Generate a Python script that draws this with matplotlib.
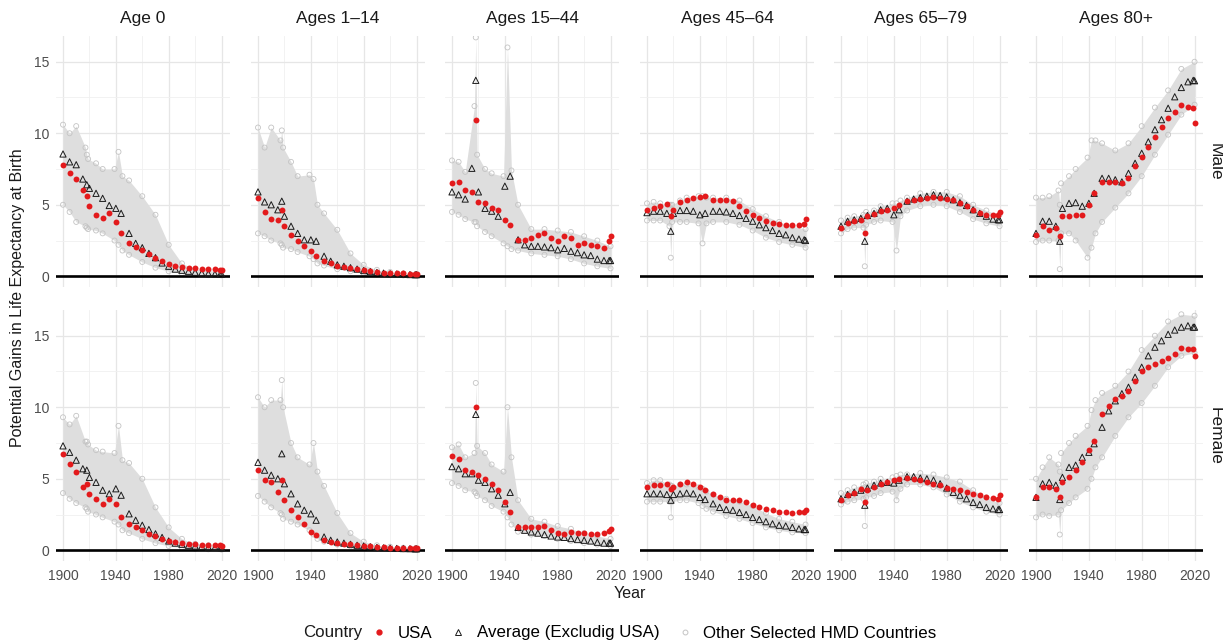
import matplotlib
matplotlib.use("Agg")
import matplotlib.pyplot as plt
from matplotlib.lines import Line2D

plt.rcParams['font.family'] = ['Liberation Sans', 'DejaVu Sans']

AGE_GROUPS = ["Age 0", "Ages 1\u201314", "Ages 15\u201344", "Ages 45\u201364", "Ages 65\u201379", "Ages 80+"]
SEXES = ["Male", "Female"]

# years for USA / average markers
YEARS = [1900, 1905, 1910, 1915, 1918, 1920, 1925, 1930, 1935, 1940, 1944,
         1950, 1955, 1960, 1965, 1970, 1975, 1980, 1985, 1990, 1995, 2000,
         2005, 2010, 2015, 2019, 2020]
# years for the envelope of the other HMD countries
BAND_YEARS = [1900, 1905, 1910, 1917, 1918, 1919, 1925, 1930, 1939, 1942, 1945,
              1950, 1960, 1970, 1980, 1990, 2000, 2010, 2020]

USA_MALE = {
    "Age 0": [7.8, 7.2, 6.8, 6.0, 5.6, 4.9, 4.3, 4.1, 4.4, 3.8, 3.0, 2.3, 2.05, 1.85, 1.55, 1.3, 1.05, 0.85, 0.72, 0.63, 0.58, 0.55, 0.53, 0.52, 0.48, 0.46, 0.45],
    "Ages 1\u201314": [5.5, 4.5, 4.0, 3.9, 4.6, 3.5, 2.9, 2.5, 2.1, 1.75, 1.45, 1.1, 0.9, 0.75, 0.65, 0.57, 0.5, 0.43, 0.37, 0.3, 0.26, 0.23, 0.21, 0.2, 0.19, 0.18, 0.18],
    "Ages 15\u201344": [6.55, 6.6, 6.05, 5.9, 10.9, 5.2, 5.1, 4.75, 4.65, 3.95, 3.6, 2.55, 2.55, 2.65, 2.9, 3.0, 2.65, 2.45, 2.8, 2.65, 2.2, 2.3, 2.2, 2.1, 1.98, 2.45, 2.85],
    "Ages 45\u201364": [4.65, 4.75, 4.9, 5.05, 4.2, 4.65, 5.2, 5.35, 5.45, 5.55, 5.6, 5.35, 5.35, 5.35, 5.25, 4.9, 4.55, 4.3, 4.05, 3.85, 3.7, 3.65, 3.6, 3.6, 3.6, 3.65, 4.0],
    "Ages 65\u201379": [3.4, 3.7, 3.85, 3.95, 3.0, 4.2, 4.35, 4.55, 4.65, 4.75, 5.0, 5.25, 5.35, 5.4, 5.45, 5.55, 5.5, 5.4, 5.3, 5.1, 4.9, 4.65, 4.4, 4.3, 4.25, 4.3, 4.5],
    "Ages 80+": [2.9, 3.5, 3.25, 3.35, 2.8, 4.2, 4.2, 4.3, 4.3, 5.0, 5.8, 6.6, 6.6, 6.6, 6.5, 6.85, 7.7, 8.35, 9.05, 9.75, 10.45, 11.05, 11.5, 12.0, 11.85, 11.8, 10.75],
}
AVG_MALE = {
    "Age 0": [8.55, 8.0, 7.8, 6.8, 6.4, 6.15, 5.8, 5.45, 4.95, 4.75, 4.4, 3.0, 2.3, 2.0, 1.6, 1.3, 0.93, 0.7, 0.5, 0.42, 0.35, 0.28, 0.23, 0.19, 0.16, 0.14, 0.14],
    "Ages 1\u201314": [5.9, 5.2, 5.0, 4.65, 5.25, 4.2, 3.5, 3.0, 2.55, 2.55, 2.45, 1.4, 1.05, 0.8, 0.7, 0.6, 0.5, 0.4, 0.33, 0.27, 0.22, 0.18, 0.16, 0.14, 0.12, 0.11, 0.11],
    "Ages 15\u201344": [5.9, 5.7, 5.4, 7.55, 13.7, 5.9, 4.75, 4.55, 4.2, 6.3, 7.0, 2.55, 2.2, 2.1, 2.1, 2.05, 2.0, 1.85, 1.95, 1.75, 1.65, 1.5, 1.45, 1.2, 1.1, 1.1, 1.1],
    "Ages 45\u201364": [4.45, 4.55, 4.55, 4.4, 3.15, 4.4, 4.6, 4.6, 4.55, 4.3, 4.4, 4.55, 4.55, 4.5, 4.4, 4.25, 4.05, 3.85, 3.6, 3.4, 3.2, 3.0, 2.9, 2.7, 2.6, 2.55, 2.5],
    "Ages 65\u201379": [3.5, 3.85, 3.95, 4.05, 2.45, 4.25, 4.4, 4.65, 4.75, 4.3, 4.65, 5.25, 5.4, 5.5, 5.6, 5.7, 5.65, 5.55, 5.35, 5.15, 4.95, 4.65, 4.4, 4.2, 4.0, 3.95, 3.95],
    "Ages 80+": [3.0, 3.85, 3.85, 3.5, 2.45, 4.75, 5.1, 5.15, 4.9, 5.1, 5.8, 6.85, 6.85, 6.75, 6.6, 7.2, 7.9, 8.6, 9.4, 10.25, 10.95, 11.75, 12.55, 13.2, 13.6, 13.7, 13.67],
}
USA_FEMALE = {
    "Age 0": [6.75, 6.05, 5.45, 4.4, 4.65, 3.95, 3.6, 3.25, 3.6, 3.25, 2.3, 1.85, 1.6, 1.4, 1.15, 0.98, 0.8, 0.65, 0.58, 0.51, 0.47, 0.42, 0.4, 0.4, 0.35, 0.35, 0.33],
    "Ages 1\u201314": [5.6, 4.9, 4.75, 4.05, 4.9, 3.5, 2.8, 2.3, 1.85, 1.3, 1.05, 0.7, 0.58, 0.51, 0.47, 0.42, 0.37, 0.33, 0.28, 0.23, 0.2, 0.19, 0.17, 0.16, 0.15, 0.14, 0.14],
    "Ages 15\u201344": [6.6, 6.4, 5.6, 5.45, 10.0, 5.25, 5.0, 4.65, 4.2, 3.35, 2.65, 1.65, 1.65, 1.65, 1.6, 1.7, 1.45, 1.2, 1.15, 1.3, 1.2, 1.2, 1.15, 1.15, 1.2, 1.35, 1.5],
    "Ages 45\u201364": [4.4, 4.55, 4.55, 4.6, 4.3, 4.45, 4.6, 4.75, 4.6, 4.4, 4.2, 3.95, 3.7, 3.55, 3.55, 3.5, 3.35, 3.15, 3.0, 2.9, 2.8, 2.7, 2.65, 2.6, 2.65, 2.65, 2.85],
    "Ages 65\u201379": [3.55, 3.85, 4.0, 4.25, 3.35, 4.2, 4.45, 4.65, 4.75, 4.9, 4.95, 5.05, 5.0, 4.9, 4.75, 4.65, 4.55, 4.35, 4.25, 4.2, 4.05, 3.95, 3.85, 3.7, 3.65, 3.6, 3.85],
    "Ages 80+": [3.7, 4.4, 4.4, 4.3, 3.7, 4.75, 5.1, 5.6, 6.15, 7.0, 7.65, 9.55, 10.1, 10.6, 10.8, 11.15, 11.85, 12.55, 12.8, 13.0, 13.2, 13.45, 13.7, 14.15, 14.05, 14.05, 13.55],
}
AVG_FEMALE = {
    "Age 0": [7.3, 6.85, 6.3, 5.7, 5.6, 5.1, 4.75, 4.2, 3.95, 4.3, 3.85, 2.55, 2.1, 1.75, 1.45, 1.15, 0.9, 0.65, 0.5, 0.42, 0.35, 0.3, 0.25, 0.22, 0.2, 0.19, 0.18],
    "Ages 1\u201314": [6.15, 5.6, 5.25, 5.0, 6.75, 4.65, 3.95, 3.25, 2.8, 2.55, 2.1, 0.93, 0.7, 0.58, 0.5, 0.42, 0.35, 0.3, 0.25, 0.2, 0.17, 0.15, 0.13, 0.12, 0.11, 0.1, 0.1],
    "Ages 15\u201344": [5.85, 5.7, 5.35, 5.35, 9.5, 4.9, 4.75, 4.3, 3.85, 3.25, 4.05, 1.6, 1.4, 1.28, 1.2, 1.1, 1.0, 0.93, 0.9, 0.82, 0.75, 0.7, 0.65, 0.56, 0.5, 0.5, 0.5],
    "Ages 45\u201364": [3.95, 3.95, 3.95, 3.9, 3.5, 3.9, 3.95, 4.0, 3.95, 3.7, 3.55, 3.25, 3.0, 2.85, 2.8, 2.65, 2.5, 2.3, 2.15, 2.0, 1.85, 1.75, 1.7, 1.6, 1.5, 1.45, 1.45],
    "Ages 65\u201379": [3.6, 3.9, 4.05, 4.2, 3.15, 4.35, 4.55, 4.7, 4.75, 4.7, 4.9, 5.15, 5.15, 5.05, 5.0, 4.9, 4.65, 4.35, 4.05, 3.85, 3.6, 3.35, 3.2, 3.0, 2.9, 2.85, 2.85],
    "Ages 80+": [3.7, 4.65, 4.75, 4.55, 3.55, 5.1, 5.8, 5.95, 6.5, 6.85, 7.45, 8.6, 9.75, 10.45, 10.95, 11.4, 12.1, 12.8, 13.6, 14.2, 14.65, 15.1, 15.4, 15.6, 15.7, 15.6, 15.6],
}

# envelope of the other selected HMD countries (low / high)
OTH_HI_MALE = {
    "Age 0": [10.6, 10.0, 10.5, 9.0, 8.5, 8.2, 7.9, 7.5, 7.5, 8.7, 7.0, 6.7, 5.6, 4.3, 2.2, 0.9, 0.5, 0.4, 0.3],
    "Ages 1\u201314": [10.4, 9.0, 10.4, 9.5, 10.2, 9.0, 8.0, 7.0, 7.1, 6.8, 5.0, 4.4, 3.25, 1.6, 0.8, 0.45, 0.3, 0.2, 0.15],
    "Ages 15\u201344": [8.1, 8.0, 7.3, 11.9, 16.7, 8.5, 7.5, 7.2, 7.0, 16.0, 7.4, 5.0, 3.3, 3.3, 3.2, 3.1, 2.8, 2.5, 2.1],
    "Ages 45\u201364": [5.1, 5.2, 5.1, 5.0, 5.0, 5.0, 5.3, 5.5, 5.6, 5.6, 5.5, 5.5, 5.5, 5.3, 4.7, 4.2, 3.8, 3.5, 3.3],
    "Ages 65\u201379": [3.9, 4.1, 4.2, 4.3, 4.2, 4.5, 4.6, 4.9, 5.1, 5.1, 5.3, 5.5, 5.8, 5.9, 5.9, 5.6, 5.0, 4.6, 4.3],
    "Ages 80+": [5.5, 5.5, 5.6, 6.0, 5.0, 6.5, 7.0, 7.5, 8.3, 9.5, 9.5, 9.3, 8.8, 9.3, 10.5, 11.8, 13.0, 14.5, 15.0],
}
OTH_LO_MALE = {
    "Age 0": [5.0, 4.5, 3.8, 3.5, 3.4, 3.3, 3.2, 3.0, 2.5, 2.2, 1.8, 1.5, 1.0, 0.6, 0.35, 0.2, 0.12, 0.08, 0.06],
    "Ages 1\u201314": [3.0, 2.8, 2.5, 2.3, 2.2, 2.0, 1.9, 1.7, 1.4, 1.2, 0.9, 0.75, 0.5, 0.35, 0.2, 0.12, 0.08, 0.06, 0.05],
    "Ages 15\u201344": [4.5, 4.3, 4.0, 3.8, 3.8, 3.5, 3.1, 2.8, 2.3, 2.1, 1.9, 1.8, 1.6, 1.5, 1.4, 1.2, 0.9, 0.7, 0.55],
    "Ages 45\u201364": [3.9, 3.9, 3.9, 3.5, 1.3, 3.8, 3.8, 3.8, 3.7, 2.3, 3.7, 3.8, 3.8, 3.6, 3.2, 2.7, 2.4, 2.2, 2.0],
    "Ages 65\u201379": [3.0, 3.3, 3.4, 3.4, 0.7, 3.6, 3.8, 3.9, 3.8, 1.8, 4.2, 4.6, 4.9, 5.0, 4.9, 4.5, 4.0, 3.7, 3.5],
    "Ages 80+": [2.4, 2.5, 2.5, 2.5, 0.5, 3.0, 3.0, 2.5, 1.3, 2.0, 3.0, 3.8, 4.8, 5.8, 7.0, 8.5, 9.9, 11.3, 12.0],
}
OTH_HI_FEMALE = {
    "Age 0": [9.3, 8.8, 9.4, 7.6, 7.6, 7.4, 7.0, 6.9, 6.8, 8.7, 6.3, 6.1, 5.0, 3.0, 1.6, 0.8, 0.45, 0.35, 0.3],
    "Ages 1\u201314": [10.7, 10.0, 10.5, 10.5, 11.9, 10.0, 7.5, 6.5, 6.0, 7.5, 5.5, 4.5, 2.6, 1.2, 0.6, 0.35, 0.25, 0.18, 0.13],
    "Ages 15\u201344": [7.2, 7.4, 6.5, 6.8, 11.7, 7.3, 6.8, 6.0, 5.5, 10.0, 6.5, 3.5, 2.2, 2.0, 1.7, 1.5, 1.2, 1.0, 0.8],
    "Ages 45\u201364": [4.7, 4.9, 4.9, 4.6, 4.5, 4.5, 4.6, 4.6, 4.4, 4.3, 4.1, 3.9, 3.6, 3.4, 3.1, 2.6, 2.2, 2.0, 1.8],
    "Ages 65\u201379": [4.0, 4.2, 4.4, 4.6, 4.4, 4.7, 4.8, 5.0, 5.1, 5.2, 5.3, 5.3, 5.4, 5.3, 5.1, 4.8, 4.2, 3.7, 3.3],
    "Ages 80+": [5.0, 5.8, 6.5, 6.0, 5.5, 6.8, 7.5, 8.0, 8.7, 9.8, 10.5, 11.0, 11.5, 12.5, 14.0, 15.0, 16.0, 16.5, 16.4],
}
OTH_LO_FEMALE = {
    "Age 0": [4.0, 3.6, 3.3, 3.0, 2.9, 2.7, 2.5, 2.3, 2.0, 1.8, 1.4, 1.2, 0.8, 0.5, 0.3, 0.18, 0.1, 0.07, 0.05],
    "Ages 1\u201314": [3.8, 3.4, 3.0, 2.6, 2.5, 2.2, 2.0, 1.8, 1.4, 1.1, 0.8, 0.6, 0.4, 0.28, 0.18, 0.12, 0.08, 0.06, 0.05],
    "Ages 15\u201344": [4.7, 4.5, 4.2, 4.1, 4.0, 3.8, 3.5, 3.1, 2.7, 2.3, 1.8, 1.3, 1.1, 1.0, 0.8, 0.65, 0.5, 0.4, 0.3],
    "Ages 45\u201364": [3.4, 3.4, 3.4, 3.4, 2.3, 3.4, 3.5, 3.5, 3.3, 3.1, 2.9, 2.7, 2.4, 2.2, 1.9, 1.6, 1.4, 1.25, 1.2],
    "Ages 65\u201379": [3.2, 3.4, 3.5, 3.6, 1.7, 3.7, 3.8, 4.0, 4.1, 3.5, 4.3, 4.6, 4.6, 4.4, 3.9, 3.4, 3.0, 2.7, 2.5],
    "Ages 80+": [2.3, 2.5, 2.4, 2.5, 1.1, 2.8, 3.3, 3.7, 4.3, 5.0, 5.8, 6.5, 8.0, 9.3, 10.3, 11.5, 12.8, 13.6, 13.8],
}

DATA = {
    "Male": (USA_MALE, AVG_MALE, OTH_LO_MALE, OTH_HI_MALE),
    "Female": (USA_FEMALE, AVG_FEMALE, OTH_LO_FEMALE, OTH_HI_FEMALE),
}

RED = "#e31a1c"
GREY = "#c4c4c4"
BAND = "#dedede"

W, H = 1223, 643
fig = plt.figure(figsize=(W / 100, H / 100), dpi=100)

lefts = [56, 251, 445, 640, 834, 1029]
tops = [36, 310]
pw, ph = 174, 251

for r, sex in enumerate(SEXES):
    usa, avg, lo, hi = DATA[sex]
    for c, grp in enumerate(AGE_GROUPS):
        ax = fig.add_axes([lefts[c] / W, 1 - (tops[r] + ph) / H, pw / W, ph / H])
        ax.set_xlim(1894.7, 2026.4)
        ax.set_ylim(-0.75, 16.8)
        ax.set_xticks([1900, 1940, 1980, 2020])
        ax.set_xticks([1920, 1960, 2000], minor=True)
        ax.set_yticks([0, 5, 10, 15])
        ax.set_yticks([2.5, 7.5, 12.5], minor=True)
        ax.grid(True, which="major", color="#e6e6e6", lw=0.9)
        ax.grid(True, which="minor", color="#f0f0f0", lw=0.6)
        ax.set_axisbelow(True)
        for s in ax.spines.values():
            s.set_visible(False)
        ax.tick_params(which="both", length=0, labelsize=10, labelcolor="#4d4d4d")
        ax.tick_params(axis="y", pad=5)
        ax.tick_params(axis="x", pad=6)
        if c > 0:
            ax.set_yticklabels([])
        if r == 0:
            ax.set_xticklabels([])

        ax.fill_between(BAND_YEARS, lo[grp], hi[grp], color=BAND, lw=0, zorder=1)
        ax.scatter(BAND_YEARS, hi[grp], s=13, facecolors="none", edgecolors=GREY, lw=0.6, zorder=2)
        ax.scatter(BAND_YEARS, lo[grp], s=13, facecolors="none", edgecolors=GREY, lw=0.6, zorder=2)
        ax.axhline(0, color="black", lw=1.9, zorder=3)
        ax.scatter(YEARS, avg[grp], s=20, marker="^", facecolors="none", edgecolors="#1a1a1a", lw=0.7, zorder=4)
        ax.scatter(YEARS, usa[grp], s=18, color=RED, lw=0, zorder=5)

        if r == 0:
            ax.set_title(grp, fontsize=12.5, color="#1a1a1a", pad=9)
        if c == len(AGE_GROUPS) - 1:
            fig.text((lefts[c] + pw + 12) / W, 1 - (tops[r] + ph / 2) / H, sex,
                     rotation=-90, ha="center", va="center", fontsize=12.5, color="#1a1a1a")

fig.text(18 / W, 1 - 298 / H, "Potential Gains in Life Expectancy at Birth",
         rotation=90, ha="center", va="center", fontsize=11.5, color="#1a1a1a")
fig.text(630 / W, 1 - 593 / H, "Year", ha="center", va="center", fontsize=11.5, color="#1a1a1a")

fig.text(303 / W, 1 - 633 / H, "Country", ha="left", va="center", fontsize=12.2, color="#1a1a1a")
handles = [
    Line2D([], [], ls="", marker="o", color=RED, ms=3.5),
    Line2D([], [], ls="", marker="^", mfc="none", mec="#1a1a1a", mew=0.7, ms=4),
    Line2D([], [], ls="", marker="o", mfc="none", mec=GREY, mew=0.7, ms=3.5),
]
labels = ["USA", "Average (Excludig USA)", "Other Selected HMD Countries"]
fig.legend(handles, labels, loc="center left", bbox_to_anchor=(371 / W, 1 - 633 / H),
           ncol=3, frameon=False, fontsize=12.2, handlelength=1.0, handletextpad=0.6,
           columnspacing=1.0, borderpad=0, borderaxespad=0)

fig.savefig("out.png", dpi=100)
